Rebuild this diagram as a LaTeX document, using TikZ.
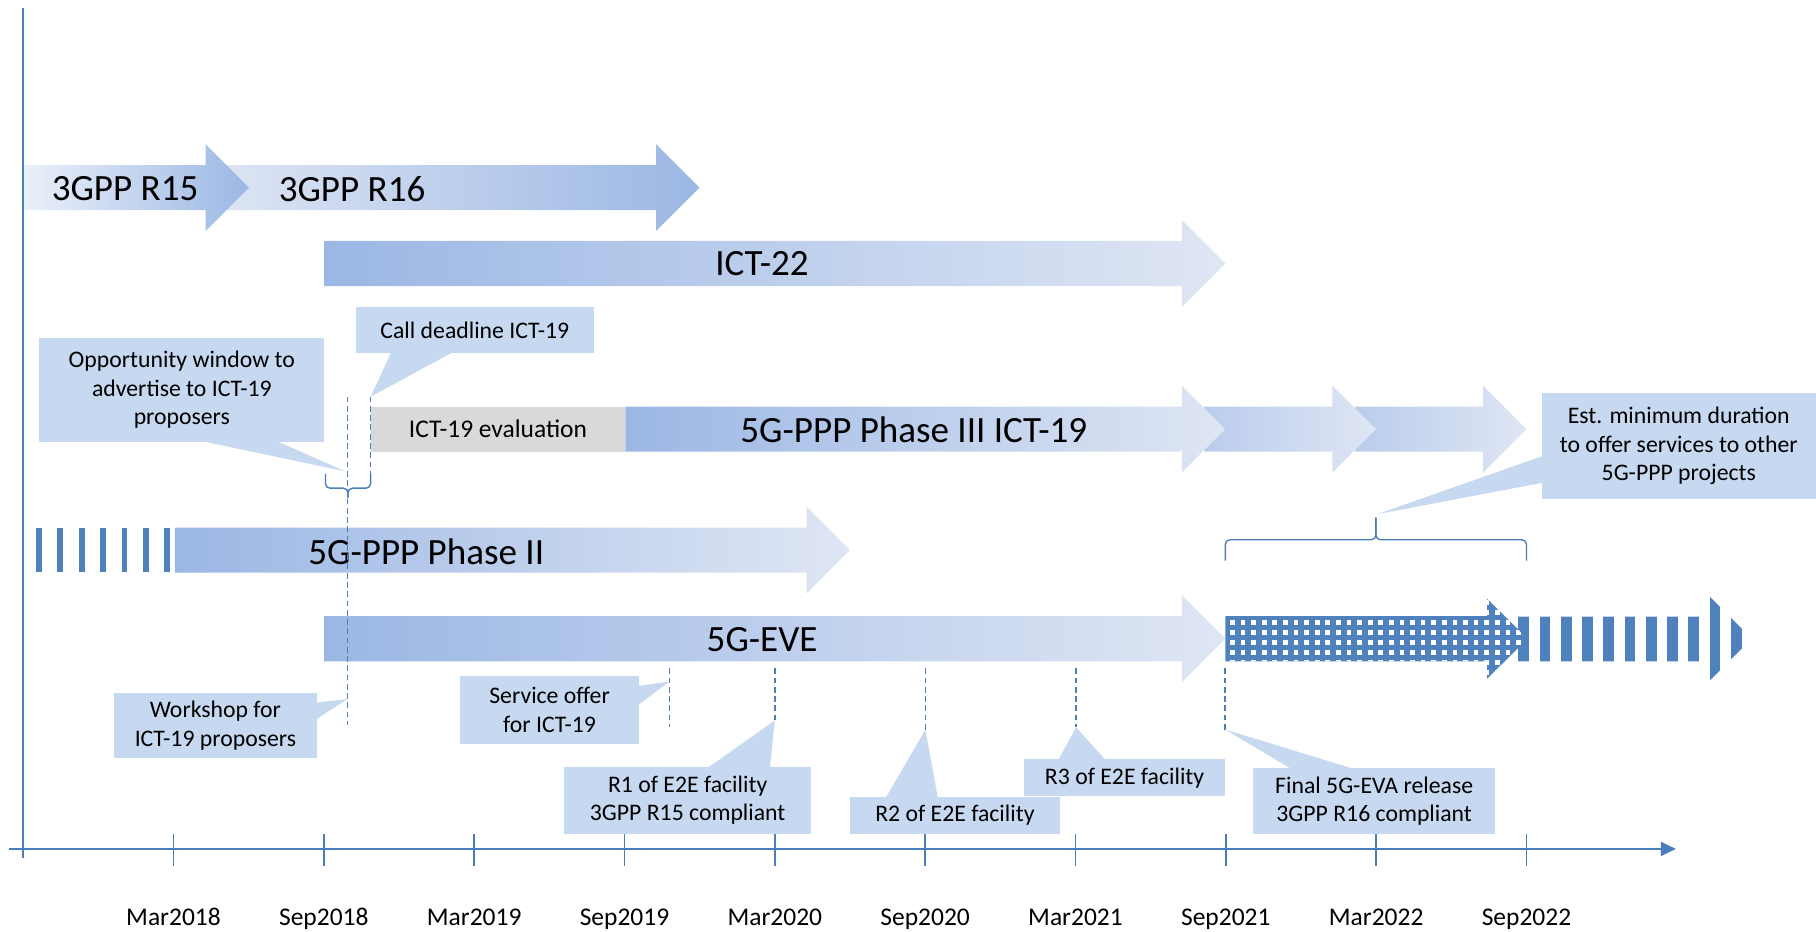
\documentclass[tikz,border=0pt]{standalone}
\usepackage{fontspec}
\setmainfont{Carlito}
\usetikzlibrary{arrows.meta}
\definecolor{myaxisblue}{RGB}{74,126,187}
\definecolor{mystripeblue}{RGB}{79,129,189}
\definecolor{mydarkshade}{RGB}{155,183,228}
\definecolor{mymidshade}{RGB}{186,204,236}
\definecolor{mylightshade}{RGB}{223,230,244}
\definecolor{mypaleshade}{RGB}{236,241,250}
\definecolor{mycallout}{RGB}{198,217,240}
\definecolor{mygray}{RGB}{217,217,217}
\newcommand{\halfbody}{19.5}
\newcommand{\halfhead}{37.5}
\newcommand{\headlength}{37.5}
\newcommand{\halfyear}{129.8}
\newcommand{\barfont}{\fontsize{32}{38}\selectfont}
\newcommand{\calloutfont}{\fontsize{20.5}{24.5}\selectfont}
\newcommand{\monthfont}{\fontsize{22}{26}\selectfont}
% #1 shading, #2 start, #3 tip, #4 centre line
\newcommand{\timebar}[4]{
    \shade[#1] (#2,#4-\halfbody) -- (#3-\headlength,#4-\halfbody) -- (#3-\headlength,#4-\halfhead)
        -- (#3,#4) -- (#3-\headlength,#4+\halfhead) -- (#3-\headlength,#4+\halfbody) -- (#2,#4+\halfbody) -- cycle;
}
% #1 left end, #2 right end, #3 end height, #4 line height, #5 spike height
\newcommand{\curly}[5]{
    \draw[bracketline] (#1,#3) -- (#1,#4) -- ({(#1+#2)/2},#4) -- ({(#1+#2)/2},#5);
    \draw[bracketline] (#2,#3) -- (#2,#4) -- ({(#1+#2)/2},#4) -- ({(#1+#2)/2},#5);
}
\tikzset{
    axisline/.style={myaxisblue, line width=2pt},
    axistick/.style={myaxisblue, line width=1.3pt},
    milestone/.style={myaxisblue, line width=1.5pt, dash pattern=on 5pt off 3pt},
    bracketline/.style={myaxisblue, line width=1.2pt, rounded corners=4pt},
    bartext/.style={font=\barfont, inner sep=0pt},
    notebox/.style={fill=mycallout, font=\calloutfont, align=center, inner sep=0pt},
    pointer/.style={fill=mycallout},
    evalbox/.style={fill=mygray, font=\monthfont, inner sep=0pt, minimum width=220pt, minimum height=39pt},
    monthlabel/.style={font=\monthfont, anchor=base, inner sep=0pt},
    darkleft/.style={left color=mydarkshade, right color=mylightshade},
    lightleft/.style={left color=mylightshade, right color=mydarkshade},
    extension/.style={left color=mymidshade, right color=mylightshade}
}

\begin{document}
\begin{tikzpicture}[x=1pt, y=-1pt]
        \useasboundingbox (0,0) rectangle (1568,804);

        % bars
        \timebar{lightleft}{178}{604}{162}
        \timebar{left color=mypaleshade, right color=mydarkshade}{20}{215}{162}
        \timebar{darkleft}{280}{1058}{227.5}
        \timebar{extension}{1170}{1318}{370.5}
        \timebar{extension}{1040}{1188}{370.5}
        \timebar{darkleft}{540}{1058}{370.5}
        \timebar{darkleft}{151}{734}{475}
        \timebar{darkleft}{280}{1058}{551.5}
        \foreach \i in {0,...,6}
            \fill[mystripeblue] (31+18.5*\i,456) rectangle ++(5,38);

        % after Sep2021
        \begin{scope}
            \clip (1295,532.5) -- (1476,532.5) -- (1476,515) -- (1512.5,551.5) -- (1476,588) -- (1476,571) -- (1295,571) -- cycle;
            \foreach \i in {0,...,10}
                \fill[mystripeblue] (1311+18.35*\i,500) rectangle ++(9.2,100);
        \end{scope}
        \begin{scope}
            \clip (1058,532) -- (1284,532) -- (1284,517) -- (1319,551.5) -- (1284,586) -- (1284,571) -- (1058,571) -- cycle;
            \fill[mystripeblue] (1050,510) rectangle (1330,595);
            \foreach \i in {0,...,28}
                \foreach \j in {-2,...,5}
                    \fill[white] (1062+9.15*\i,535.4+8.6*\j) rectangle ++(4.1,4.1);
        \end{scope}

        \node[bartext] (r15) at (108,163) {3GPP R15};
        \node[bartext] (r16) at (304,163) {3GPP R16};
        \node[bartext] (ict22) at (658,228) {ICT-22};
        \node[evalbox] (eval) at (430,370.5) {ICT-19 evaluation};
        \node[bartext] (phase3) at (789,371) {5G-PPP Phase III ICT-19};
        \node[bartext] (phase2) at (368,476) {5G-PPP Phase II};
        \node[bartext] (eve) at (658,552) {5G-EVE};

        % time axis
        \draw[axisline] (20,7) -- (20,741);
        \draw[axisline, -{Triangle[length=13pt, width=12pt]}] (8,733) -- (1447,733);
        \foreach \k/\lbl in {1/Mar2018, 2/Sep2018, 3/Mar2019, 4/Sep2019, 5/Mar2020, 6/Sep2020, 7/Mar2021, 8/Sep2021, 9/Mar2022, 10/Sep2022} {
            \draw[axistick] (20+\halfyear*\k,720) -- ++(0,28);
            \node[monthlabel] (m\k) at (20+\halfyear*\k,799) {\lbl};
        }

        % milestones
        \coordinate (oppTip) at (298,407);
        \coordinate (callTip) at (320,342.5);
        \coordinate (wsTop) at (300,342.5);
        \coordinate (wsTip) at (300,603.5);
        \coordinate (wsEnd) at (300,626);
        \coordinate (callEnd) at (320,409);
        \coordinate (svTop) at (578,577);
        \coordinate (svTip) at (578,588.6);
        \coordinate (svEnd) at (578,628);
        \coordinate (r1Top) at (669,577);
        \coordinate (r1Tip) at (669,622);
        \coordinate (r2Top) at (799,577);
        \coordinate (r2Tip) at (799,630);
        \coordinate (r3Top) at (929,577);
        \coordinate (r3Tip) at (929,628);
        \coordinate (finalTop) at (1058,577);
        \coordinate (finalTip) at (1058,630);
        \coordinate (estTip) at (1189,444);

        \draw[milestone] (wsTop) -- (wsEnd);
        \draw[milestone] (callTip) -- (callEnd);
        \draw[milestone] (svTop) -- (svEnd);
        \draw[milestone] (r1Top) -- (r1Tip);
        \draw[milestone] (r2Top) -- (r2Tip);
        \draw[milestone] (r3Top) -- (r3Tip);
        \draw[milestone] (finalTop) -- (finalTip);

        \curly{281}{320}{409}{421.5}{430}
        \curly{1058}{1318}{484}{466}{447}

        % callouts
        \node[notebox, minimum width=246pt, minimum height=90.5pt] (opp) at (157,336.75) {Opportunity window to\\advertise to ICT-19\\proposers};
        \fill[pointer] ([xshift=142pt, yshift=1pt]opp.south west) -- (oppTip) -- ([xshift=206pt, yshift=1pt]opp.south west) -- cycle;
        \node[notebox, minimum width=206pt, minimum height=40pt] (call) at (410,285) {Call deadline ICT-19};
        \fill[pointer] ([xshift=31pt, yshift=1pt]call.south west) -- (callTip) -- ([xshift=84pt, yshift=1pt]call.south west) -- cycle;
        \node[notebox, minimum width=175pt, minimum height=56pt] (workshop) at (186,626.6) {Workshop for\\ICT-19 proposers};
        \fill[pointer] ([xshift=-1pt, yshift=-8.4pt]workshop.north east) -- (wsTip) -- ([xshift=-1pt, yshift=-22.9pt]workshop.north east) -- cycle;
        \node[notebox, minimum width=155pt, minimum height=58pt] (service) at (474.5,613) {Service offer\\for ICT-19};
        \fill[pointer] ([xshift=-1pt, yshift=-8.4pt]service.north east) -- (svTip) -- ([xshift=-1pt, yshift=-24.8pt]service.north east) -- cycle;
        \node[notebox, minimum width=213.5pt, minimum height=58pt] (r1) at (593.75,691) {R1 of E2E facility\\3GPP R15 compliant};
        \fill[pointer] ([xshift=124.5pt, yshift=-1pt]r1.north west) -- (r1Tip) -- ([xshift=178pt, yshift=-1pt]r1.north west) -- cycle;
        \node[notebox, minimum width=181pt, minimum height=32pt] (r2) at (824.5,704) {R2 of E2E facility};
        \fill[pointer] ([xshift=31pt, yshift=-1pt]r2.north west) -- (r2Tip) -- ([xshift=76pt, yshift=-1pt]r2.north west) -- cycle;
        \node[notebox, minimum width=174pt, minimum height=32pt] (r3) at (971,671.5) {R3 of E2E facility};
        \fill[pointer] ([xshift=30pt, yshift=-1pt]r3.north west) -- (r3Tip) -- ([xshift=71pt, yshift=-1pt]r3.north west) -- cycle;
        \node[notebox, minimum width=209pt, minimum height=57pt] (final) at (1186.5,691.5) {Final 5G-EVA release\\3GPP R16 compliant};
        \fill[pointer] ([xshift=33pt, yshift=-1pt]final.north west) -- (finalTip) -- ([xshift=87pt, yshift=-1pt]final.north west) -- cycle;
        \node[notebox, minimum width=237pt, minimum height=92pt] (est) at (1449.5,385) {Est. minimum duration\\to offer services to other\\5G-PPP projects};
        \fill[pointer] ([xshift=1pt, yshift=-55pt]est.north west) -- (estTip) -- ([xshift=1pt, yshift=-78pt]est.north west) -- cycle;
\end{tikzpicture}
\end{document}
